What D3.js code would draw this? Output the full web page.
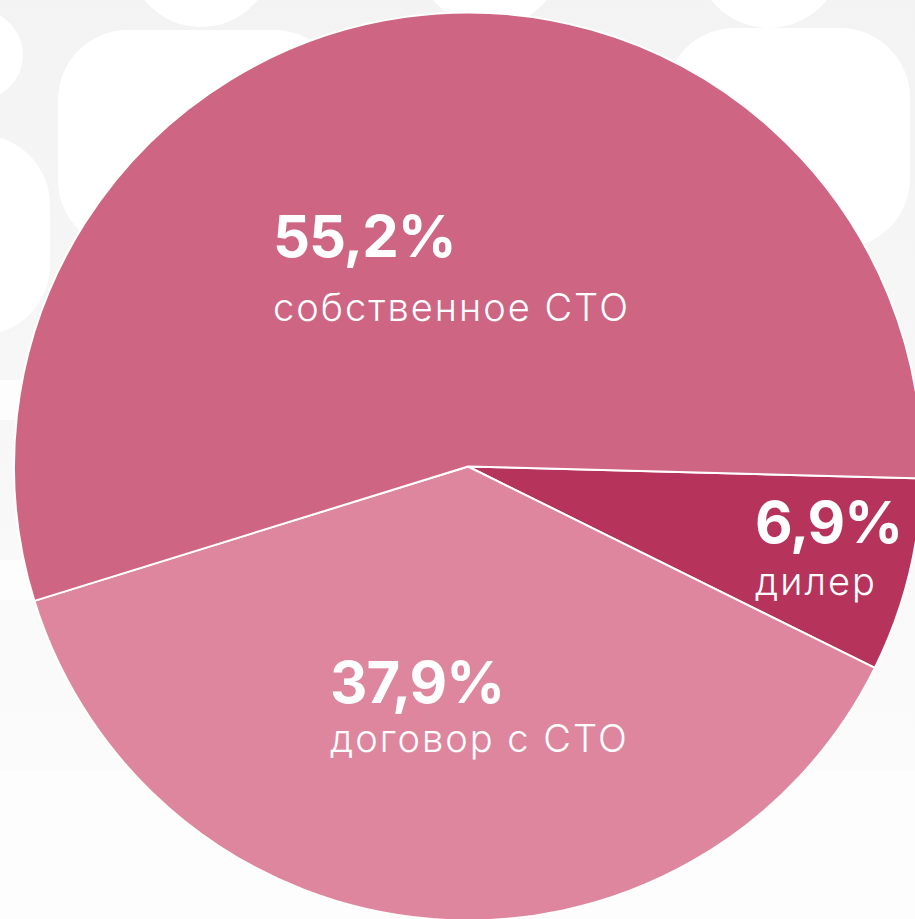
<!DOCTYPE html>
<html>
<head>
<meta charset="utf-8">
<script src="https://cdn.jsdelivr.net/npm/d3@7"></script>
<style>
  html, body { margin: 0; padding: 0; background: #ffffff; }
  svg { display: block; }
</style>
</head>
<body>
<svg id="chart" width="915" height="919"></svg>
<script>
// Data
const categories = ["дилер", "договор с СТО", "собственное СТО"];
const values = [6.9, 37.9, 55.2];
const valueLabels = ["6,9%", "37,9%", "55,2%"];
const colors = ["#b6335b", "#de869e", "#cd6583"];
// label anchors: [x, value baseline, category baseline]
const labelPos = [[755, 543, 595], [330, 703, 752], [273, 257, 321]];

const W = 915, H = 919;
const cx = 468, cy = 466.5, R = 454;
const svg = d3.select("#chart");

// Background watermark (faint)
const defs = svg.append("defs");
const grad = defs.append("linearGradient").attr("id", "bg").attr("x1", 0).attr("y1", 0).attr("x2", 0).attr("y2", 1);
grad.append("stop").attr("offset", "0%").attr("stop-color", "#f3f3f3");
grad.append("stop").attr("offset", "45%").attr("stop-color", "#f7f7f7");
grad.append("stop").attr("offset", "100%").attr("stop-color", "#fdfdfd");
svg.append("rect").attr("width", W).attr("height", H).attr("fill", "url(#bg)");

const bgW = svg.append("g").attr("fill", "#ffffff");
[[201, -46, 73], [490, -46, 73], [769, -46, 74], [-22, 55, 45]].forEach(c =>
  bgW.append("circle").attr("cx", c[0]).attr("cy", c[1]).attr("r", c[2]));
[[58, 30, 286, 220], [665, 28, 245, 220], [-200, 135, 250, 200]].forEach(r =>
  bgW.append("rect").attr("x", r[0]).attr("y", r[1]).attr("width", r[2]).attr("height", r[3]).attr("rx", 70));
const bgL = svg.append("g").attr("fill", "#fdfdfd");
[[0, 380, 30, 40], [0, 560, 120, 40], [0, 770, 915, 149]].forEach(r =>
  bgL.append("rect").attr("x", r[0]).attr("y", r[1]).attr("width", r[2]).attr("height", r[3]));

// Pie
const start = 91.5 * Math.PI / 180;
const pie = d3.pie().sort(null).value(d => d).startAngle(start).endAngle(start + 2 * Math.PI);
const arc = d3.arc().innerRadius(0).outerRadius(R);
const arcs = pie(values);

const g = svg.append("g").attr("transform", `translate(${cx},${cy})`);
g.selectAll("path").data(arcs).join("path")
  .attr("d", arc)
  .attr("fill", (d, i) => colors[i])
  .attr("stroke", "#ffffff")
  .attr("stroke-width", 2)
  .attr("stroke-linejoin", "round");

// Labels
const lab = svg.append("g").attr("fill", "#ffffff").attr("font-family", "Inter, 'Open Sans', sans-serif");
categories.forEach((c, i) => {
  const p = labelPos[i];
  lab.append("text").attr("x", p[0]).attr("y", p[1])
    .attr("font-size", 58).attr("font-weight", 700).attr("letter-spacing", "-1")
    .text(valueLabels[i]);
  lab.append("text").attr("x", p[0]).attr("y", p[2])
    .attr("font-size", 38).attr("font-weight", 300).attr("letter-spacing", "2")
    .text(c);
});
</script>
</body>
</html>
